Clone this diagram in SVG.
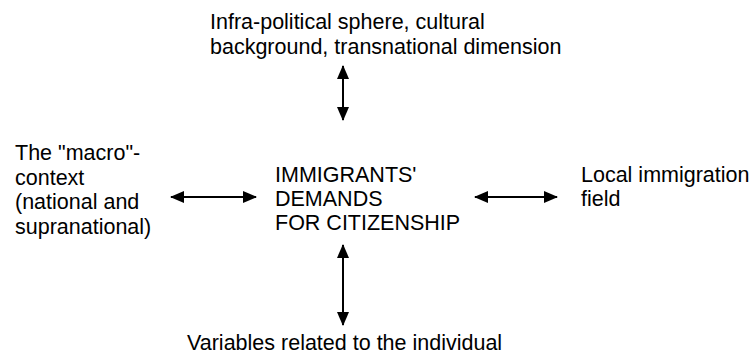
<svg xmlns="http://www.w3.org/2000/svg" width="750" height="359" viewBox="0 0 750 359">
  <style>
    text { font-family: "Liberation Sans", Arial, sans-serif; font-size: 21.5px; fill: #000; }
    .link { stroke: #000; stroke-width: 2; fill: none; marker-start: url(#head); marker-end: url(#head); }
  </style>
  <defs>
    <marker id="head" viewBox="0 0 14 12" refX="13" refY="6" markerWidth="14" markerHeight="12" orient="auto-start-reverse" markerUnits="userSpaceOnUse">
      <path d="M0,0 L14,6 L0,12 Z" fill="#000"/>
    </marker>
  </defs>
  <rect width="750" height="359" fill="#fff"/>

  <g id="center">
    <text x="275" y="182">IMMIGRANTS'</text>
    <text x="275" y="206">DEMANDS</text>
    <text x="275" y="230">FOR CITIZENSHIP</text>
  </g>

  <g id="top">
    <text x="210" y="29">Infra-political sphere, cultural</text>
    <text x="210" y="54">background, transnational dimension</text>
  </g>

  <g id="left">
    <text x="15" y="160">The "macro"-</text>
    <text x="15" y="184.5">context</text>
    <text x="15" y="209">(national and</text>
    <text x="15" y="233.5">supranational)</text>
  </g>

  <g id="right">
    <text x="581" y="182">Local immigration</text>
    <text x="581" y="206">field</text>
  </g>

  <g id="bottom">
    <text x="187" y="350">Variables related to the individual</text>
  </g>

  <g id="connectors">
    <line class="link" x1="343" y1="66" x2="343" y2="120"/>
    <line class="link" x1="171" y1="197" x2="256" y2="197"/>
    <line class="link" x1="475" y1="197" x2="557" y2="197"/>
    <line class="link" x1="343" y1="245" x2="343" y2="325"/>
  </g>
</svg>
